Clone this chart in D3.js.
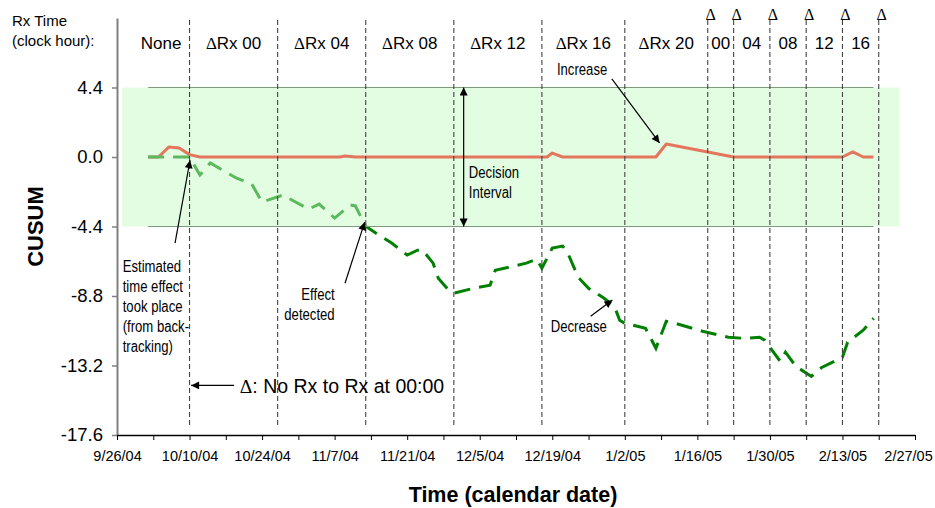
<!DOCTYPE html>
<html>
<head>
<meta charset="utf-8">
<script src="https://cdn.jsdelivr.net/npm/d3@7"></script>
<style>
  body { margin: 0; background: #fff; }
  svg { display: block; font-family: "Liberation Sans", Arial, sans-serif; }
  .narrow { font-size: 16px; }
  .delta { font-family: "Liberation Serif", "Times New Roman", serif; }
</style>
</head>
<body>
<svg id="chart"></svg>
<script>
// ---- data ----
const xTickLabels = ["9/26/04", "10/10/04", "10/24/04", "11/7/04", "11/21/04", "12/5/04",
  "12/19/04", "1/2/05", "1/16/05", "1/30/05", "2/13/05", "2/27/05"];
const yTicks = [4.4, 0.0, -4.4, -8.8, -13.2, -17.6];
const yTop = 8.8;
const decisionLimit = 4.4;

// upper CUSUM (increase)
const upperCusum = [
  ["2004-10-02", 0], ["2004-10-04", 0], ["2004-10-06", 0.63], ["2004-10-08", 0.57],
  ["2004-10-10", 0.15], ["2004-10-12", 0], ["2004-11-08", 0], ["2004-11-09", 0.06],
  ["2004-11-11", 0], ["2004-12-18", 0], ["2004-12-19", 0.25], ["2004-12-21", 0],
  ["2005-01-08", 0], ["2005-01-10", 0.82], ["2005-01-23", 0], ["2005-02-13", 0],
  ["2005-02-15", 0.32], ["2005-02-17", 0], ["2005-02-19", 0]
];

// lower CUSUM (decrease)
const lowerCusum = [
  ["2004-10-02", 0], ["2004-10-10", 0], ["2004-10-12", -1.14], ["2004-10-14", -0.38],
  ["2004-10-19", -1.33], ["2004-10-22", -1.71], ["2004-10-24", -2.85], ["2004-10-28", -2.41],
  ["2004-11-02", -3.30], ["2004-11-04", -2.98], ["2004-11-07", -3.87], ["2004-11-10", -3.04],
  ["2004-11-11", -3.10], ["2004-11-13", -4.38], ["2004-11-15", -4.82], ["2004-11-18", -5.45],
  ["2004-11-21", -6.21], ["2004-11-23", -5.90], ["2004-11-24", -5.90], ["2004-11-26", -6.72],
  ["2004-11-27", -7.67], ["2004-11-29", -8.43], ["2004-11-30", -8.62], ["2004-12-04", -8.30],
  ["2004-12-07", -8.12], ["2004-12-08", -7.17], ["2004-12-14", -6.72], ["2004-12-16", -6.47],
  ["2004-12-17", -7.04], ["2004-12-19", -5.77], ["2004-12-21", -5.64], ["2004-12-22", -6.09],
  ["2004-12-24", -7.61], ["2004-12-26", -8.31], ["2004-12-29", -8.94], ["2004-12-31", -9.45],
  ["2005-01-01", -10.34], ["2005-01-02", -10.53], ["2005-01-06", -10.84], ["2005-01-08", -12.11],
  ["2005-01-10", -10.40], ["2005-01-11", -10.46], ["2005-01-17", -11.03], ["2005-01-22", -11.41],
  ["2005-01-25", -11.48], ["2005-01-28", -11.41], ["2005-01-29", -11.60], ["2005-02-01", -12.94],
  ["2005-02-02", -12.36], ["2005-02-04", -13.25], ["2005-02-07", -13.89], ["2005-02-09", -13.32],
  ["2005-02-13", -12.68], ["2005-02-14", -11.73], ["2005-02-17", -10.97], ["2005-02-19", -10.21]
];

// decision interval band and limit lines
const bandDates = ["2004-09-27", "2005-02-24"];
const limitDates = ["2004-10-02", "2005-02-19"];

// dosing-time changes
const headerStart = "2004-09-29";
const changeDates = ["2004-10-10", "2004-10-27", "2004-11-13", "2004-11-30", "2004-12-17",
  "2005-01-02", "2005-01-18", "2005-01-23", "2005-01-30", "2005-02-06", "2005-02-13", "2005-02-20"];
const headerLabels = ["None", "\u0394Rx 00", "\u0394Rx 04", "\u0394Rx 08", "\u0394Rx 12", "\u0394Rx 16",
  "\u0394Rx 20", "00", "04", "08", "12", "16"];
const deltaMarks = [false, false, false, false, false, false, true, true, true, true, true, true];

class CusumChart {

  constructor(_config) {
    this.config = {
      parentElement: _config.parentElement,
      containerWidth: _config.containerWidth || 935,
      containerHeight: _config.containerHeight || 508,
      margin: _config.margin || {top: 18, right: 20, bottom: 73, left: 117}
    };
    this.initVis();
  }

  initVis() {
    let vis = this;
    const parse = d3.timeParse("%Y-%m-%d");
    vis.parse = parse;

    vis.width = vis.config.containerWidth - vis.config.margin.left - vis.config.margin.right;
    vis.height = vis.config.containerHeight - vis.config.margin.top - vis.config.margin.bottom;

    const tickParse = d3.timeParse("%m/%d/%y");
    vis.labelDates = xTickLabels.map(tickParse);

    vis.xScale = d3.scaleTime()
        .domain([vis.labelDates[0], vis.labelDates[vis.labelDates.length - 1]])
        .range([0, vis.width]);

    vis.yScale = d3.scaleLinear()
        .domain([yTicks[yTicks.length - 1], yTop])
        .range([vis.height, 0]);

    vis.svg = d3.select(vis.config.parentElement)
        .attr('width', vis.config.containerWidth)
        .attr('height', vis.config.containerHeight);

    const defs = vis.svg.append('defs');
    defs.append('marker')
        .attr('id', 'head')
        .attr('viewBox', '0 0 10 10')
        .attr('refX', 10).attr('refY', 5)
        .attr('markerWidth', 9).attr('markerHeight', 8)
        .attr('markerUnits', 'userSpaceOnUse')
        .attr('orient', 'auto-start-reverse')
      .append('path')
        .attr('d', 'M0,0L10,5L0,10z')
        .attr('fill', '#000');

    vis.chart = vis.svg.append('g')
        .attr('transform', `translate(${vis.config.margin.left},${vis.config.margin.top})`);

    vis.renderVis();
  }

  // position helpers for annotations: days after axis start, CUSUM value
  dx(days) { return this.xScale(new Date(this.labelDates[0].getTime() + days * 864e5)); }
  dy(v) { return this.yScale(v); }

  renderVis() {
    let vis = this;
    const x = vis.xScale, y = vis.yScale, p = vis.parse;

    const line = d3.line()
        .x(d => x(p(d[0])))
        .y(d => y(d[1]));

    vis.chart.append('path')
        .datum(upperCusum)
        .attr('d', line)
        .attr('fill', 'none')
        .attr('stroke', '#ff0000')
        .attr('stroke-width', 3)
        .attr('stroke-linejoin', 'round');

    vis.chart.append('path')
        .datum(lowerCusum)
        .attr('d', line)
        .attr('fill', 'none')
        .attr('stroke', '#008000')
        .attr('stroke-width', 3)
        .attr('stroke-dasharray', '16,9');

    // translucent decision interval band (lies over the curves)
    vis.chart.append('rect')
        .attr('x', x(p(bandDates[0])))
        .attr('width', x(p(bandDates[1])) - x(p(bandDates[0])))
        .attr('y', y(decisionLimit))
        .attr('height', y(-decisionLimit) - y(decisionLimit))
        .attr('fill', 'rgb(196,251,196)')
        .attr('fill-opacity', 0.47);

    // limit lines
    vis.chart.selectAll('.limit')
        .data([decisionLimit, -decisionLimit])
      .join('line')
        .attr('class', 'limit')
        .attr('x1', x(p(limitDates[0])))
        .attr('x2', x(p(limitDates[1])))
        .attr('y1', d => y(d))
        .attr('y2', d => y(d))
        .attr('stroke', '#7d9c7d')
        .attr('stroke-width', 1.2);

    // change lines
    vis.chart.selectAll('.change')
        .data(changeDates)
      .join('line')
        .attr('class', 'change')
        .attr('x1', d => x(p(d)))
        .attr('x2', d => x(p(d)))
        .attr('y1', 2)
        .attr('y2', y(-17.05))
        .attr('stroke', '#444')
        .attr('stroke-width', 1.1)
        .attr('stroke-dasharray', '5,3');

    // header labels between change lines
    const bounds = [headerStart].concat(changeDates).map(p);
    const hdr = vis.chart.selectAll('.hdr')
        .data(headerLabels)
      .join('text')
        .attr('class', 'hdr')
        .attr('x', (d, i) => (x(bounds[i]) + x(bounds[i + 1])) / 2)
        .attr('y', 31)
        .attr('text-anchor', 'middle')
        .style('font-size', '17px');
    hdr.each(function(d) {
      const t = d3.select(this);
      if (d.startsWith('\u0394')) {
        t.append('tspan').attr('class', 'delta').text('\u0394');
        t.append('tspan').text(d.slice(1));
      } else {
        t.text(d);
      }
    });

    // delta marks above the last change lines
    vis.chart.selectAll('.dmark')
        .data(changeDates.filter((d, i) => deltaMarks[i]))
      .join('text')
        .attr('class', 'dmark delta')
        .attr('x', d => x(p(d)) + 3)
        .attr('y', 2)
        .attr('text-anchor', 'middle')
        .style('font-size', '16px')
        .text('\u0394');

    vis.svg.append('text')
        .attr('x', 12).attr('y', 26)
        .style('font-size', '15px')
        .text('Rx Time');
    vis.svg.append('text')
        .attr('x', 12).attr('y', 46)
        .style('font-size', '15px')
        .text('(clock hour):');

    // axes
    const yAxis = d3.axisLeft(y)
        .tickValues(yTicks)
        .tickFormat(d => d.toFixed(1))
        .tickSize(5)
        .tickSizeOuter(0)
        .tickPadding(9);
    const yAxisG = vis.chart.append('g').call(yAxis);
    yAxisG.select('.domain').attr('stroke', '#808080').attr('stroke-width', 2);
    yAxisG.selectAll('.tick line').attr('stroke', '#808080').attr('stroke-width', 1.5);
    yAxisG.selectAll('.tick text')
        .style('font-size', '18.5px')
        .style('font-family', '"Liberation Sans", Arial, sans-serif');

    const fmt = d3.timeFormat("%-m/%-d/%y");
    const labelSet = new Set(xTickLabels);
    const weekly = d3.timeWeek.range(x.domain()[0], d3.timeDay.offset(x.domain()[1], 1));
    const xAxis = d3.axisBottom(x)
        .tickValues(weekly)
        .tickFormat(d => labelSet.has(fmt(d)) ? fmt(d) : '')
        .tickSize(5)
        .tickSizeOuter(0)
        .tickPadding(11);
    const xAxisG = vis.chart.append('g')
        .attr('transform', `translate(0,${vis.height})`)
        .call(xAxis);
    xAxisG.select('.domain').attr('stroke', '#000').attr('stroke-width', 1.5);
    xAxisG.selectAll('.tick line').attr('stroke', '#000');
    xAxisG.selectAll('.tick text')
        .style('font-size', '14.5px')
        .style('font-family', '"Liberation Sans", Arial, sans-serif');
    xAxisG.selectAll('.tick:last-of-type text').attr('dx', -7);

    vis.svg.append('text')
        .attr('transform', `translate(43,${vis.config.margin.top + vis.height / 2}) rotate(-90)`)
        .attr('text-anchor', 'middle')
        .style('font-size', '22px')
        .style('font-weight', 'bold')
        .text('CUSUM');

    vis.svg.append('text')
        .attr('x', vis.config.margin.left + vis.width / 2 - 3)
        .attr('y', 502)
        .attr('text-anchor', 'middle')
        .style('font-size', '21.5px')
        .style('font-weight', 'bold')
        .text('Time (calendar date)');

    // annotations
    const arrow = (a, b, both) => {
      const l = vis.chart.append('line')
          .attr('x1', vis.dx(a[0])).attr('y1', vis.dy(a[1]))
          .attr('x2', vis.dx(b[0])).attr('y2', vis.dy(b[1]))
          .attr('stroke', '#000').attr('stroke-width', 1.2)
          .attr('marker-end', 'url(#head)');
      if (both) l.attr('marker-start', 'url(#head)');
    };
    // narrow (condensed) note text
    const note = (lines, days, v, anchor) => {
      const t = vis.chart.append('g')
          .attr('transform', `translate(${vis.dx(days)},${vis.dy(v)}) scale(0.82,1)`)
        .append('text')
          .attr('class', 'narrow')
          .attr('text-anchor', anchor || 'start');
      lines.forEach((s, i) => t.append('tspan')
          .attr('x', 0)
          .attr('y', i * 20)
          .text(s));
    };

    note(['Estimated', 'time effect', 'took place', '(from back-', 'tracking)'], 1.1, -7.3);
    arrow([11.2, -5.45], [14.1, -0.2]);

    note(['Effect', 'detected'], 42.0, -9.07, 'end');
    arrow([44.0, -7.99], [47.8, -4.12]);

    note(['Increase'], 84.9, 5.2);
    arrow([95.5, 4.95], [104.7, 0.89]);

    note(['Decrease'], 83.7, -11.1);
    arrow([91.4, -10.08], [95.6, -9.05]);

    note(['Decision', 'Interval'], 67.9, -1.33);
    arrow([66.9, decisionLimit], [66.9, -decisionLimit], true);

    vis.chart.append('text')
        .attr('x', vis.dx(23.7))
        .attr('y', vis.dy(-14.97))
        .style('font-size', '19.5px')
        .call(t => {
          t.append('tspan').attr('class', 'delta').text('\u0394');
          t.append('tspan').text(': No Rx to Rx at 00:00');
        });
    arrow([22.6, -14.46], [14.3, -14.46]);
  }
}

new CusumChart({parentElement: '#chart'});
</script>
</body>
</html>
